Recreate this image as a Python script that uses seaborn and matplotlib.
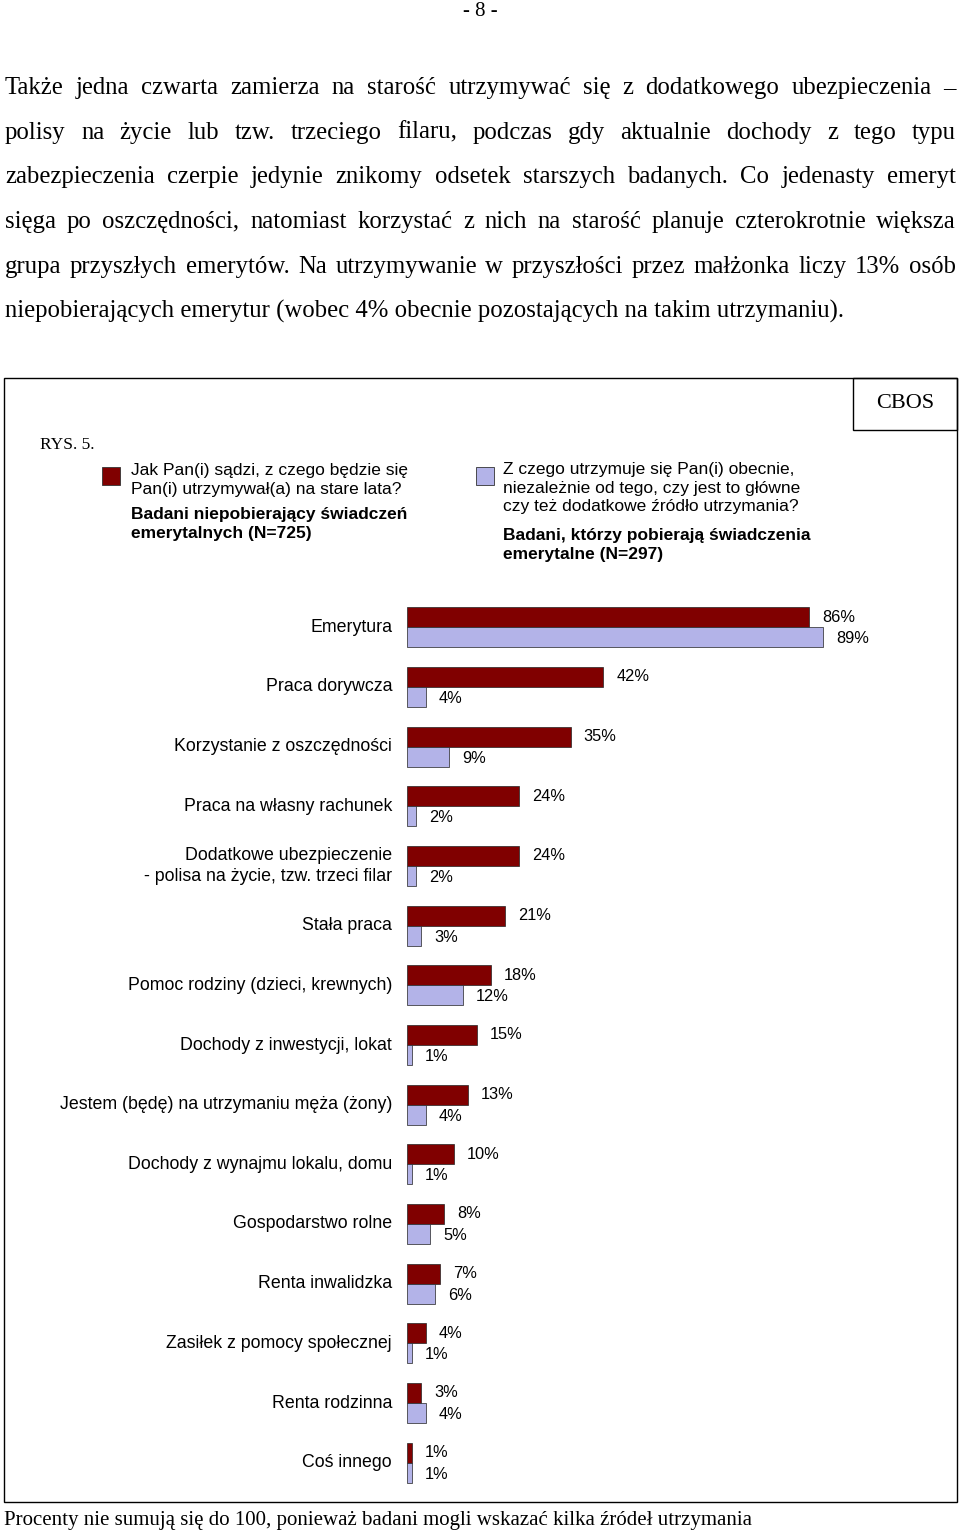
import matplotlib
matplotlib.use("Agg")
import matplotlib.pyplot as plt
import seaborn as sns
import pandas as pd
from matplotlib.patches import Rectangle

categories = ["Emerytura", "Praca dorywcza", "Korzystanie z oszczędności", "Praca na własny rachunek",
              "Dodatkowe ubezpieczenie\n- polisa na życie, tzw. trzeci filar", "Stała praca",
              "Pomoc rodziny (dzieci, krewnych)", "Dochody z inwestycji, lokat",
              "Jestem (będę) na utrzymaniu męża (żony)", "Dochody z wynajmu lokalu, domu",
              "Gospodarstwo rolne", "Renta inwalidzka", "Zasiłek z pomocy społecznej",
              "Renta rodzinna", "Coś innego"]
future = [86, 42, 35, 24, 24, 21, 18, 15, 13, 10, 8, 7, 4, 3, 1]
current = [89, 4, 9, 2, 2, 3, 12, 1, 4, 1, 5, 6, 1, 4, 1]

W, H = 960, 1533
fig = plt.figure(figsize=(W/100, H/100), dpi=100)
def fx(x): return x / W
def fy(y): return 1 - y / H

serif = "Liberation Serif"
sans = "Liberation Sans"

fig.text(fx(480), fy(11), "- 8 -", ha="center", va="center", fontsize=15, family=serif)

para = [
    "Także jedna czwarta zamierza na starość utrzymywać się z dodatkowego ubezpieczenia –",
    "polisy na życie lub tzw. trzeciego filaru, podczas gdy aktualnie dochody z tego typu",
    "zabezpieczenia czerpie jedynie znikomy odsetek starszych badanych. Co jedenasty emeryt",
    "sięga po oszczędności, natomiast korzystać z nich na starość planuje czterokrotnie większa",
    "grupa przyszłych emerytów. Na utrzymywanie w przyszłości przez małżonka liczy 13% osób",
    "niepobierających emerytur (wobec 4% obecnie pozostających na takim utrzymaniu).",
]
pfs = 17.8
renderer = fig.canvas.get_renderer()
left, right = 5, 956
for i, line in enumerate(para):
    y = fy(88 + i * 44.7)
    if i == len(para) - 1:
        fig.text(fx(left), y, line, ha="left", va="center", fontsize=pfs, family=serif)
        continue
    words = line.split(" ")
    ts = [fig.text(0, y, w, ha="left", va="center", fontsize=pfs, family=serif) for w in words]
    widths = [t.get_window_extent(renderer).width for t in ts]
    gap = (right - left - sum(widths)) / (len(words) - 1)
    x = left
    for t, w in zip(ts, widths):
        t.set_x(fx(x))
        x += w + gap

fig.patches.append(Rectangle((fx(4), fy(1502)), fx(953), (1502-378)/H, transform=fig.transFigure,
                             fill=False, ec="black", lw=1))
fig.patches.append(Rectangle((fx(853), fy(430)), fx(104), 52/H, transform=fig.transFigure,
                             fill=False, ec="black", lw=1))
fig.text(fx(905), fy(403), "CBOS", ha="center", va="center", fontsize=16, family=serif)
fig.text(fx(40), fy(445), "RYS. 5.", ha="left", va="center", fontsize=12.5, family=serif)

red, blue = "#800000", "#B3B3E8"
fig.patches.append(Rectangle((fx(102), fy(485)), 18/W, 18/H, transform=fig.transFigure, fc=red, ec="#333", lw=0.6))
fig.patches.append(Rectangle((fx(476), fy(485)), 18/W, 18/H, transform=fig.transFigure, fc=blue, ec="#333", lw=0.6))
fs = 12.5
ls = 1.3
fig.text(fx(131), fy(463), "Jak Pan(i) sądzi, z czego będzie się\nPan(i) utrzymywał(a) na stare lata?",
         ha="left", va="top", fontsize=fs, family=sans, linespacing=ls)
fig.text(fx(131), fy(507), "Badani niepobierający świadczeń\nemerytalnych (N=725)",
         ha="left", va="top", fontsize=fs, family=sans, weight="bold", linespacing=ls)
fig.text(fx(503), fy(462), "Z czego utrzymuje się Pan(i) obecnie,\nniezależnie od tego, czy jest to główne\nczy też dodatkowe źródło utrzymania?",
         ha="left", va="top", fontsize=fs, family=sans, linespacing=ls)
fig.text(fx(503), fy(528), "Badani, którzy pobierają świadczenia\nemerytalne (N=297)",
         ha="left", va="top", fontsize=fs, family=sans, weight="bold", linespacing=ls)

scale = 4.674
x0, x1 = 407, 957
y0, y1 = 597.5, 1492.5
ax = fig.add_axes([fx(x0), fy(y1), (x1-x0)/W, (y1-y0)/H])
n = len(categories)
df = pd.DataFrame({"cat": categories*2, "val": future+current,
                   "grp": ["Przyszłe"]*n + ["Obecne"]*n})
sns.barplot(data=df, x="val", y="cat", hue="grp", palette=[red, blue], orient="h", saturation=1,
            width=0.67, dodge=True, ax=ax, edgecolor="#222", linewidth=0.5, legend=False)
ax.set_xlim(0, (x1-x0)/scale)
ax.set_ylim(n-0.5, -0.5)
ax.axis("off")
off = 13/scale
for i in range(n):
    ax.text(future[i]+off, i-0.17, f"{future[i]}%", ha="left", va="center", fontsize=11.8, family=sans)
    ax.text(current[i]+off, i+0.19, f"{current[i]}%", ha="left", va="center", fontsize=11.8, family=sans)
    fig.text(fx(392), fy(y0 + (i+0.5)*(y1-y0)/n), categories[i], ha="right", va="center",
             fontsize=12.8, family=sans, linespacing=1.25)

fig.text(fx(4), fy(1520), "Procenty nie sumują się do 100, ponieważ badani mogli wskazać kilka źródeł utrzymania",
         ha="left", va="center", fontsize=15, family=serif)

fig.savefig("out.png", dpi=100)
